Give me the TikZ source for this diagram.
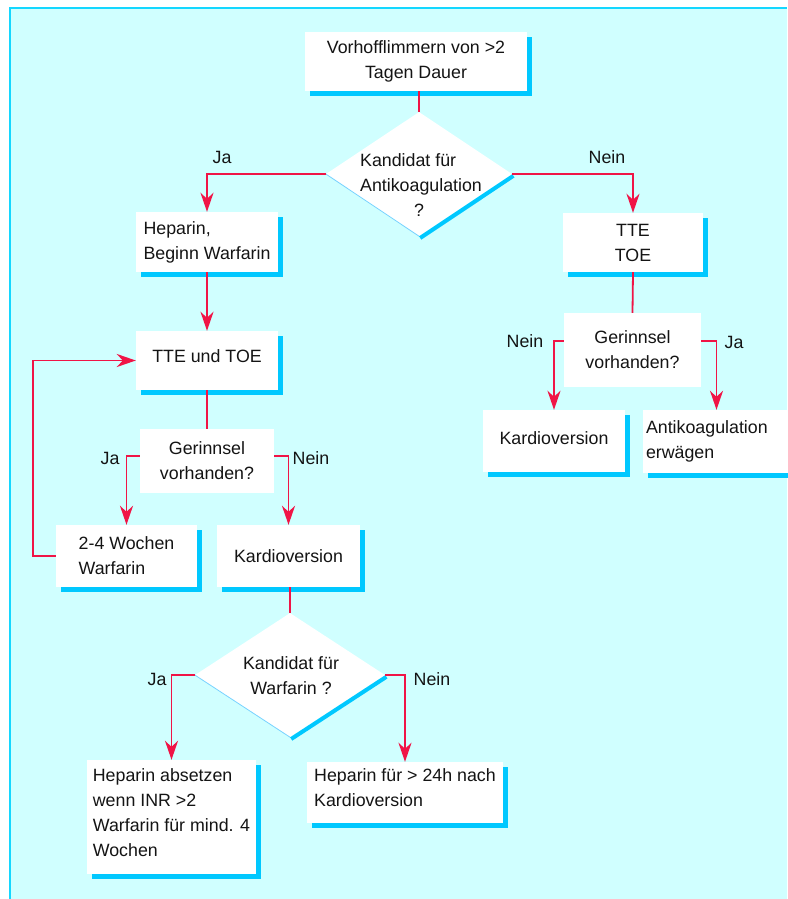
\documentclass[tikz,border=0pt]{standalone}
\usepackage{fontspec}
\setmainfont{Liberation Sans}
\usetikzlibrary{arrows.meta,shapes.geometric,shadows}

\definecolor{bgcyan}{RGB}{208,255,255}
\definecolor{framecyan}{RGB}{20,215,255}
\definecolor{shadowblue}{RGB}{0,200,255}
\definecolor{edgeblue}{RGB}{120,210,255}
\definecolor{flowred}{RGB}{240,20,70}
\definecolor{ink}{RGB}{20,20,20}

% invisible depth on the last line, to move a text block upward in its box
\newcommand\dropdepth[1]{\rule[-#1]{0pt}{#1}}

\begin{document}
\begin{tikzpicture}[x=1pt,y=-1pt,
  every node/.style={font=\fontsize{17.8}{25}\selectfont, text=ink},
  card/.style={fill=white, inner sep=0pt,
    drop shadow={shadow xshift=4.5pt, shadow yshift=-5pt, fill=shadowblue, opacity=1}},
  plainbox/.style={fill=white, inner sep=0pt},
  decision/.style={shape=diamond, fill=white, inner sep=0pt},
  flow/.style={draw=flowred, line width=1.8pt},
  arr/.style={flow, -{Stealth[length=19pt,width=13pt,inset=6pt]}},
  tag/.style={inner sep=0pt},
  dshadow/.style={shadowblue, line width=4pt},
  dedge/.style={edgeblue, line width=0.8pt}
]
\useasboundingbox (0,0) rectangle (787,899);
\fill[white] (0,0) rectangle (787,899);
\fill[bgcyan] (10,8) rectangle (787,899);
\draw[framecyan, line width=2pt] (10.3,899) -- (10.3,8.3) -- (787,8.3);

% --- boxes ---
\node[card, minimum width=222pt, minimum height=59pt, align=center] (start) at (416,61.5)
  {Vorhofflimmern von >2\\Tagen Dauer};

\node[decision, minimum width=186pt, minimum height=124pt] (d1) at (419,174) {};
\draw[dshadow] ([shift={(1.2pt,-1.8pt)}]d1.east) -- ([shift={(1.2pt,-1.8pt)}]d1.south);
\draw[dedge] (d1.west) -- (d1.south);
\node[tag, align=left] (d1t) at (421,185) {Kandidat für\\Antikoagulation\\\hspace*{54pt}?};

\node[card, minimum width=142pt, minimum height=60pt, align=left] (hw) at (207,242)
  {Heparin,\\Beginn Warfarin};
\node[card, minimum width=142pt, minimum height=59pt, align=center] (tte1) at (207,360.5)
  {TTE und TOE\dropdepth{8pt}};
\node[plainbox, minimum width=134pt, minimum height=64pt, align=center] (g1) at (207,461)
  {Gerinnsel\\vorhanden?};
\node[card, minimum width=141pt, minimum height=62pt, align=left] (w1) at (126.5,556)
  {2-4 Wochen\\Warfarin};
\node[card, minimum width=143pt, minimum height=62pt, align=center] (k1) at (288.5,556)
  {Kardioversion};

\node[decision, minimum width=190pt, minimum height=124pt] (d2) at (290,675) {};
\draw[dshadow] ([shift={(1.2pt,-1.8pt)}]d2.east) -- ([shift={(1.2pt,-1.8pt)}]d2.south);
\draw[dedge] (d2.west) -- (d2.south);
\node[tag, align=center] (d2t) at (291,675.5) {Kandidat für\\Warfarin ?};

\node[card, minimum width=169pt, minimum height=114pt, align=left] (h1) at (171.5,817)
  {Heparin absetzen\\wenn INR >2\\Warfarin für mind. 4\\Wochen\dropdepth{8pt}};
\node[card, minimum width=196pt, minimum height=61pt, align=left] (h2) at (405,792.5)
  {Heparin für > 24h nach\\Kardioversion\dropdepth{10pt}};

\node[card, minimum width=140pt, minimum height=59pt, align=center] (r1) at (633,242.5)
  {TTE\\TOE};
\node[plainbox, minimum width=137pt, minimum height=74pt, align=center] (g2) at (632.5,350)
  {Gerinnsel\\vorhanden?};
\node[card, minimum width=142pt, minimum height=62pt, align=center] (k2) at (554,441)
  {Kardioversion\dropdepth{6pt}};
\node[card, minimum width=147pt, minimum height=63pt, text width=141pt, align=left] (a1) at (716.5,441.5)
  {Antikoagulation\\erwägen};

% --- branch labels ---
\node[tag] (ja1) at (222,157) {Ja};
\node[tag] (nein1) at (607,157) {Nein};
\node[tag] (ja2) at (110,458) {Ja};
\node[tag] (nein2) at (311,458) {Nein};
\node[tag] (nein3) at (525,341) {Nein};
\node[tag] (ja3) at (734,342) {Ja};
\node[tag] (ja4) at (157,679) {Ja};
\node[tag] (nein4) at (432,679) {Nein};

% --- connectors ---
\coordinate (loop) at (33,0);
\draw[flow] (d1.north |- start.south) -- (d1.north);
\draw[arr] (d1.west) -| (hw.north);
\draw[arr] (d1.east) -| (r1.north);
\draw[arr] (hw.south) -- (tte1.north);
\draw[flow] (tte1.south) -- (g1.north);
\draw[arr] ([yshift=5pt]g1.west) -| (w1.north);
\draw[arr] ([yshift=5pt]g1.east) -| (k1.north);
\draw[arr] (w1.west) -- (w1.west -| loop) |- (tte1.west);
\draw[flow] (d2.north |- k1.south) -- (d2.north);
\draw[arr] (d2.west) -| (h1.north);
\draw[arr] (d2.east) -| (h2.north);
\draw[flow] (r1.south) -- (g2.north);
\draw[arr] ([yshift=9pt]g2.west) -| (k2.north);
\draw[arr] ([yshift=9pt]g2.east) -| (a1.north);
\end{tikzpicture}
\end{document}
